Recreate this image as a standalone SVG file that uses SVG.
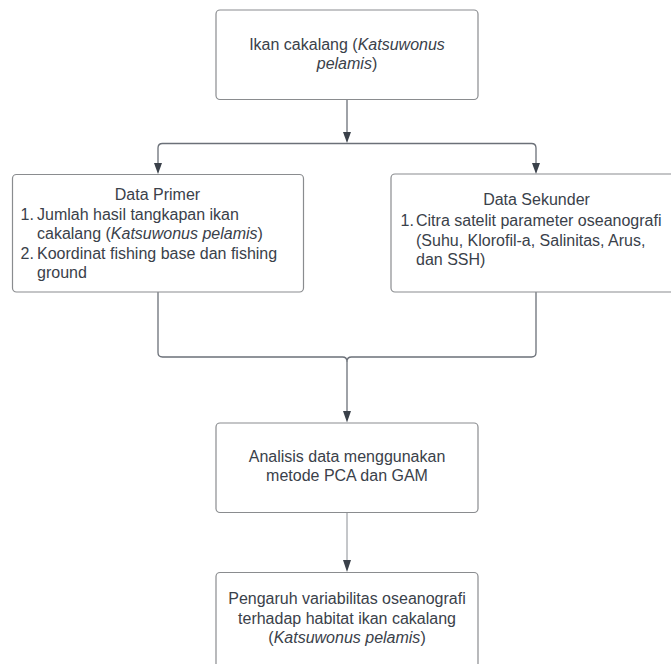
<svg xmlns="http://www.w3.org/2000/svg" width="671" height="664" viewBox="0 0 671 664">
  <style>
    .box { fill: #ffffff; stroke: #8a8c8f; stroke-width: 1.2; }
    .t { font-family: "Liberation Sans", Arial, sans-serif; font-size: 16px; fill: #3a414a; }
    .c { text-anchor: middle; }
    .i { font-style: italic; }
    .line { fill: none; stroke: #6b7078; stroke-width: 1.3; }
    .thin { fill: none; stroke: #8a8e94; stroke-width: 1; }
    .head { fill: #3a414a; }
  </style>
  <rect width="671" height="664" fill="#ffffff"/>

  <g id="connectors">
    <path class="line" d="M347 99.5 V134"/>
    <polygon class="head" points="343,132 351,132 347,143"/>
    <path class="line" d="M158 164 V148 Q158 143.5 162.5 143.5 H531.5 Q536 143.5 536 148 V164"/>
    <polygon class="head" points="154,163 162,163 158,174"/>
    <polygon class="head" points="532,163 540,163 536,174"/>
    <path class="line" d="M158 292 V352.5 Q158 357 162.5 357 H342.5 Q347 357 347 361.5 Q347 357 351.5 357 H531.5 Q536 357 536 352.5 V292"/>
    <path class="line" d="M347 361 V413"/>
    <polygon class="head" points="343,411 351,411 347,422.5"/>
    <path class="thin" d="M347 513 V562"/>
    <polygon class="head" points="343,560 351,560 347,572"/>
  </g>

  <g id="node-ikan">
    <rect class="box" x="216" y="10" width="262" height="89.5" rx="4"/>
    <text class="t c" x="347" y="49.5">Ikan cakalang (<tspan class="i">Katsuwonus</tspan></text>
    <text class="t c" x="347" y="68.5"><tspan class="i">pelamis</tspan>)</text>
  </g>

  <g id="node-primer">
    <rect class="box" x="12.5" y="174.5" width="291" height="117.5" rx="4"/>
    <text class="t c" x="157.5" y="199.5">Data Primer</text>
    <text class="t" x="20.5" y="219.5">1.</text>
    <text class="t" x="37" y="219.5">Jumlah hasil tangkapan ikan</text>
    <text class="t" x="37" y="239">cakalang (<tspan class="i">Katsuwonus pelamis</tspan>)</text>
    <text class="t" x="20.5" y="258.5">2.</text>
    <text class="t" x="37" y="258.5">Koordinat fishing base dan fishing</text>
    <text class="t" x="37" y="278">ground</text>
  </g>

  <g id="node-sekunder">
    <rect class="box" x="391" y="174" width="292" height="118" rx="4"/>
    <text class="t c" x="536.5" y="205">Data Sekunder</text>
    <text class="t" x="400.5" y="226">1.</text>
    <text class="t" x="416" y="226">Citra satelit parameter oseanografi</text>
    <text class="t" x="416" y="245.5">(Suhu, Klorofil-a, Salinitas, Arus,</text>
    <text class="t" x="416" y="265">dan SSH)</text>
  </g>

  <g id="node-analisis">
    <rect class="box" x="216" y="423" width="262" height="89.5" rx="4"/>
    <text class="t c" x="347" y="461.5">Analisis data menggunakan</text>
    <text class="t c" x="347" y="481">metode PCA dan GAM</text>
  </g>

  <g id="node-pengaruh">
    <rect class="box" x="216" y="572.5" width="262" height="120" rx="4"/>
    <text class="t c" x="347" y="604">Pengaruh variabilitas oseanografi</text>
    <text class="t c" x="347" y="623.5">terhadap habitat ikan cakalang</text>
    <text class="t c" x="347" y="643">(<tspan class="i">Katsuwonus pelamis</tspan>)</text>
  </g>
</svg>
